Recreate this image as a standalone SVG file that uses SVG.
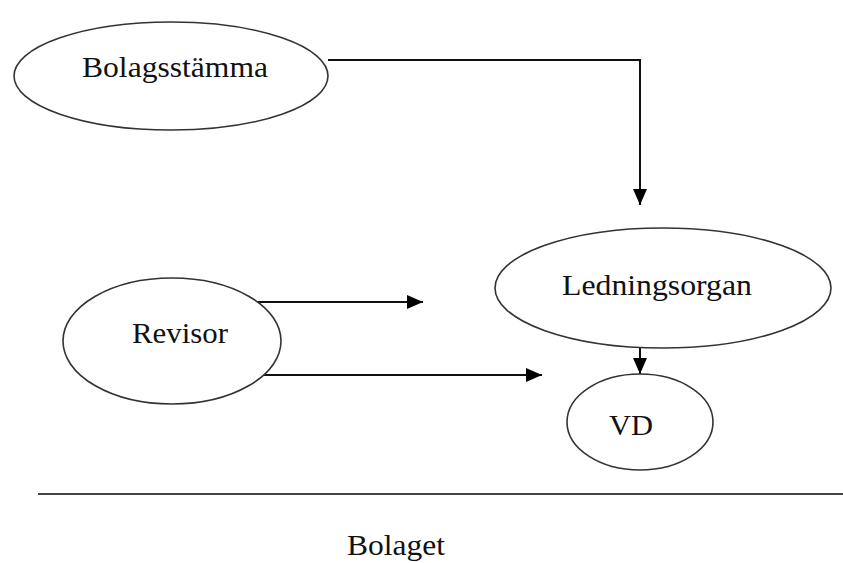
<svg xmlns="http://www.w3.org/2000/svg" width="843" height="563" viewBox="0 0 843 563">
<defs>
<marker id="ah" markerUnits="userSpaceOnUse" markerWidth="16" markerHeight="14" refX="16" refY="7" orient="auto">
<polygon points="0,0 16,7 0,14" fill="#000"/>
</marker>
<style>
.node{fill:#fff;stroke:#333;stroke-width:1.6}
.lbl{font-family:"Liberation Serif","Times New Roman",serif;font-size:30px;fill:#111;text-anchor:middle}
.conn{fill:none;stroke:#111;stroke-width:2}
</style>
</defs>
<rect width="843" height="563" fill="#fff"/>
<g id="connectors">
<polyline class="conn" points="328,60 640,60 640,205" stroke="#444" marker-end="url(#ah)"/>
<line class="conn" x1="258" y1="302" x2="423" y2="302" marker-end="url(#ah)"/>
<line class="conn" x1="258" y1="375" x2="542" y2="375" marker-end="url(#ah)"/>
<line class="conn" x1="640" y1="348" x2="640" y2="374" marker-end="url(#ah)"/>
<line x1="38" y1="494" x2="843" y2="494" stroke="#444" stroke-width="2.2"/>
</g>
<g id="bolagsstamma">
<ellipse class="node" cx="171" cy="76" rx="157" ry="54"/>
<text class="lbl" x="175" y="77" textLength="186" lengthAdjust="spacingAndGlyphs">Bolagsstämma</text>
</g>
<g id="ledningsorgan">
<ellipse class="node" cx="663" cy="288" rx="168" ry="60"/>
<text class="lbl" x="657" y="295" textLength="190" lengthAdjust="spacingAndGlyphs">Ledningsorgan</text>
</g>
<g id="revisor">
<ellipse class="node" cx="172" cy="341" rx="109" ry="63"/>
<text class="lbl" x="180" y="343" textLength="96" lengthAdjust="spacingAndGlyphs">Revisor</text>
</g>
<g id="vd">
<ellipse class="node" cx="640" cy="422" rx="73" ry="48"/>
<text class="lbl" x="631" y="435" textLength="44" lengthAdjust="spacingAndGlyphs">VD</text>
</g>
<g id="bolaget">
<text class="lbl" x="396" y="555" textLength="98" lengthAdjust="spacingAndGlyphs">Bolaget</text>
</g>
</svg>
